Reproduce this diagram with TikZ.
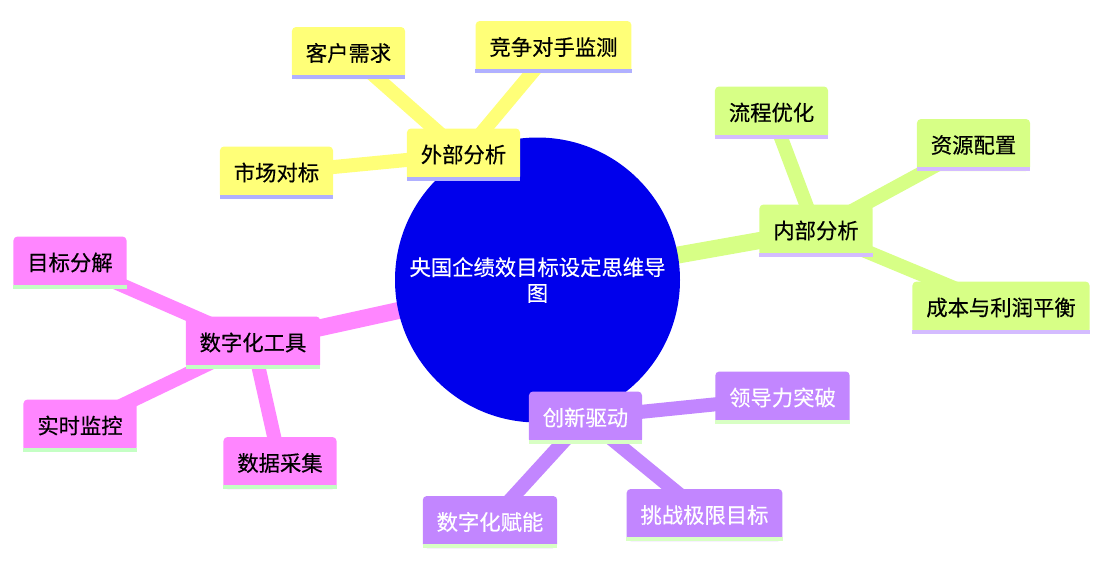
\documentclass[tikz,border=0pt]{standalone}
\usepackage{fontspec}
\setmainfont{Noto Sans CJK SC}[FakeBold=0.4]
\usetikzlibrary{positioning}
\definecolor{rootblue}{HTML}{0000EC}
\definecolor{secyel}{HTML}{FFFF78}
\definecolor{secgrn}{HTML}{D7FF86}
\definecolor{secpur}{HTML}{C286FF}
\definecolor{secmag}{HTML}{FF86FF}
\definecolor{linyel}{HTML}{B0B0FF}
\definecolor{lingrn}{HTML}{D4BCFF}
\definecolor{linpur}{HTML}{D8FFC4}
\definecolor{linmag}{HTML}{C4FFC4}
\pgfdeclarelayer{edges}
\pgfsetlayers{edges,main}

\begin{document}
\begin{tikzpicture}[x=0.75pt,y=-0.75pt,
  every node/.style={font=\fontsize{16pt}{19.3pt}\selectfont},
  topic/.style={rounded corners=3pt,inner xsep=10.4pt,inner ysep=0pt,
    minimum height=39pt},
  yel/.style={topic,fill=secyel,text=black},
  grn/.style={topic,fill=secgrn,text=black},
  pur/.style={topic,fill=secpur,text=white},
  mag/.style={topic,fill=secmag,text=black},
  trunk/.style={line width=12.75pt},
  twig/.style={line width=10.5pt}]
  \useasboundingbox (0,0) rectangle (1108,568);

  % centre
  \node[circle,fill=rootblue,text=white,align=center,inner sep=0pt,
    minimum size=213.75pt] (root) at (537.5,280)
    {央国企绩效目标设定思维导\\图};

  % external
  \node[yel] (ext) at (463.5,154.5) {外部分析};
  \node[yel] (cust) at (348.5,53) {客户需求};
  \node[yel] (rival) at (553.5,47) {竞争对手监测};
  \node[yel] (bench) at (276.5,172.5) {市场对标};

  % internal
  \node[grn] (inner) at (816,230.5) {内部分析};
  \node[grn] (flow) at (771.5,112.5) {流程优化};
  \node[grn] (alloc) at (973.5,145) {资源配置};
  \node[grn] (cost) at (1001,307.5) {成本与利润平衡};

  % innovation
  \node[pur] (innov) at (585.5,417.5) {创新驱动};
  \node[pur] (lead) at (782.5,397.5) {领导力突破};
  \node[pur] (empow) at (490,522) {数字化赋能};
  \node[pur] (limit) at (704.5,515) {挑战极限目标};

  % digital tools
  \node[mag] (digi) at (253,342.5) {数字化工具};
  \node[mag] (split) at (70,262.5) {目标分解};
  \node[mag] (watch) at (80,425.5) {实时监控};
  \node[mag] (collect) at (280,463) {数据采集};

  % bottom lines
  \foreach \n/\c in {ext/linyel,cust/linyel,rival/linyel,bench/linyel,
      inner/lingrn,flow/lingrn,alloc/lingrn,cost/lingrn,
      innov/linpur,lead/linpur,empow/linpur,limit/linpur,
      digi/linmag,split/linmag,watch/linmag,collect/linmag}
    \fill[\c] ([yshift=3pt]\n.south west) rectangle (\n.south east);

  \begin{pgfonlayer}{edges}
    \draw[trunk,secyel] (root.center) -- (ext.center);
    \draw[trunk,secgrn] (root.center) -- (inner.center);
    \draw[trunk,secpur] (root.center) -- (innov.center);
    \draw[trunk,secmag] (root.center) -- (digi.center);
    \foreach \a/\b/\c in {ext/cust/secyel,ext/rival/secyel,ext/bench/secyel,
        inner/flow/secgrn,inner/alloc/secgrn,inner/cost/secgrn,
        innov/lead/secpur,innov/empow/secpur,innov/limit/secpur,
        digi/split/secmag,digi/watch/secmag,digi/collect/secmag}
      \draw[twig,\c] (\a.center) -- (\b.center);
  \end{pgfonlayer}
\end{tikzpicture}
\end{document}
